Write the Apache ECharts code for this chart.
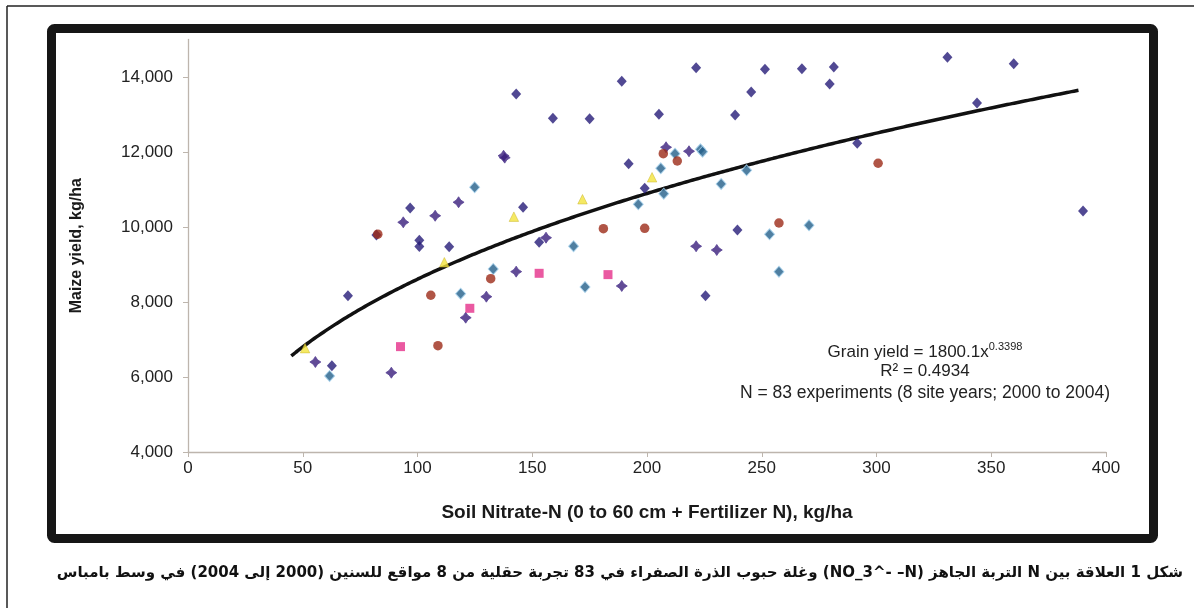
<!DOCTYPE html>
<html>
<head>
<meta charset="utf-8">
<script src="https://cdn.jsdelivr.net/npm/echarts@6/dist/echarts.min.js"></script>
<style>
html,body{margin:0;padding:0;background:#fff;}
#chart{width:1194px;height:608px;}
</style>
</head>
<body>
<div id="chart"></div>
<script>
// ---- Data ----
const xTicks = [0, 50, 100, 150, 200, 250, 300, 350, 400];
const yTicks = [4000, 6000, 8000, 10000, 12000, 14000];

const blueX = [62.7, 69.7, 82.1, 96.8, 100.8, 100.8, 113.8, 189, 143, 159, 175, 192, 146, 221.4, 251.4, 267.5, 281.4, 279.6, 245.4, 205.2, 238.4, 239.4, 225.5, 330.9, 359.8, 343.8, 291.6, 390, 199, 153];
const blueY = [6300, 8170, 9790, 10507, 9650, 9480, 9476, 13886, 13547, 12900, 12890, 11690, 10527, 14250, 14206, 14222, 14268, 13814, 13600, 13006, 12987, 9920, 8170, 14527, 14356, 13307, 12233, 10427, 11033, 9593];

const purpleX = [55.5, 88.6, 93.8, 107.7, 117.9, 137.5, 138, 121, 130, 143, 156, 189, 208.3, 218.3, 221.4, 230.4];
const purpleY = [6400, 6115, 10125, 10300, 10660, 11900, 11850, 7582, 8142, 8810, 9715, 8427, 12126, 12020, 9486, 9387];

const tealX = [61.7, 124.9, 133, 118.8, 168, 173, 206, 207.3, 196.2, 212.2, 223.3, 224.2, 243.4, 232.3, 257.5, 253.4, 270.6];
const tealY = [6027, 11060, 8880, 8222, 9487, 8400, 11566, 10889, 10606, 11955, 12073, 12008, 11513, 11148, 8808, 9806, 10046];

const redX = [82.7, 105.8, 108.9, 131.9, 181, 199, 207.1, 213.2, 257.5, 300.7];
const redY = [9810, 8180, 6835, 8622, 9955, 9966, 11955, 11760, 10107, 11700];

const pinkX = [92.6, 122.8, 153, 183];
const pinkY = [6810, 7832, 8765, 8730];

const yellowX = [51, 111.7, 142, 171.9, 202.2];
const yellowY = [6770, 9060, 10275, 10740, 11326];

// Fitted power curve printed on the chart: Grain yield = 1800.1 x^0.3398
const fitA = 1800.1;
const fitB = 0.3398;
const fitXStart = 45;
const fitXEnd = 388;

const eqLine1 = 'Grain yield = 1800.1x';
const eqExp = '0.3398';
const eqLine2 = 'R² = 0.4934';
const eqLine3 = 'N = 83 experiments (8 site years; 2000 to 2004)';
const xName = 'Soil Nitrate-N (0 to 60 cm + Fertilizer N), kg/ha';
const yName = 'Maize yield, kg/ha';
const caption = 'شكل 1 العلاقة بين N التربة الجاهز (NO_3^- –N) وغلة حبوب الذرة الصفراء في 83 تجربة حقلية من 8 مواقع للسنين (2000 إلى 2004) في وسط بامباس';

function pairs(xs, ys) { return xs.map((x, i) => [x, ys[i]]); }
const fitData = [];
for (let x = fitXStart; x <= fitXEnd; x += 1) fitData.push([x, fitA * Math.pow(x, fitB)]);

const starPath = 'path://M0,-10 L4,-4 L10,0 L4,4 L0,10 L-4,4 L-10,0 L-4,-4 Z';

const chart = echarts.init(document.getElementById('chart'));
const font = '"Liberation Sans", Arial, sans-serif';
const axisCol = '#bdb5ad';

chart.setOption({
  backgroundColor: '#ffffff',
  animation: false,
  grid: { left: 188, right: 88, top: 39.5, bottom: 156 },
  xAxis: {
    type: 'value', min: 0, max: 400, interval: 50,
    name: xName, nameLocation: 'middle', nameGap: 51,
    nameTextStyle: { fontFamily: font, fontWeight: 'bold', fontSize: 19, color: '#1a1a1a' },
    axisLine: { show: true, lineStyle: { color: axisCol, width: 1.3 } },
    axisTick: { show: true, length: 5, inside: false, lineStyle: { color: axisCol } },
    axisLabel: { fontFamily: font, fontSize: 17, color: '#222', margin: 8 },
    splitLine: { show: false }
  },
  yAxis: {
    type: 'value', min: 4000, max: 15000, interval: 2000,
    name: yName, nameLocation: 'middle', nameGap: 103, nameRotate: 90,
    nameTextStyle: { fontFamily: font, fontWeight: 'bold', fontSize: 16, color: '#1a1a1a' },
    axisLine: { show: true, lineStyle: { color: axisCol, width: 1.3 } },
    axisTick: { show: true, length: 5, lineStyle: { color: axisCol }, customValues: yTicks },
    axisLabel: {
      fontFamily: font, fontSize: 17, color: '#222', margin: 15, customValues: yTicks,
      formatter: v => v.toLocaleString('en-US')
    },
    splitLine: { show: false }
  },
  series: [
    { type: 'line', data: fitData, showSymbol: false, smooth: false, z: 1,
      lineStyle: { color: '#111', width: 3.5 } },
    { type: 'scatter', data: pairs(blueX, blueY), symbol: 'diamond', symbolSize: [10, 11], z: 3,
      itemStyle: { color: '#261c78' } },
    { type: 'scatter', data: pairs(purpleX, purpleY), symbol: starPath, symbolSize: 11, z: 3,
      itemStyle: { color: '#3a1e7c', borderColor: '#5a4596', borderWidth: 1 } },
    { type: 'scatter', data: pairs(tealX, tealY), symbol: 'diamond', symbolSize: [10, 11], z: 3,
      itemStyle: { color: '#235f8a', borderColor: '#a6d2ee', borderWidth: 1 } },
    { type: 'scatter', data: pairs(redX, redY), symbol: 'circle', symbolSize: 9.5, z: 4,
      itemStyle: { color: '#9c2a18' } },
    { type: 'scatter', data: pairs(pinkX, pinkY), symbol: 'rect', symbolSize: 9, z: 4,
      itemStyle: { color: '#e5308a' } },
    { type: 'scatter', data: pairs(yellowX, yellowY), symbol: 'triangle', symbolSize: 9.5, z: 4,
      itemStyle: { color: '#f3e43c', borderColor: '#c8b42a', borderWidth: 0.6 } }
  ],
  graphic: [
    { type: 'line', shape: { x1: 7, y1: 6, x2: 1194, y2: 6 }, style: { stroke: '#222', lineWidth: 1.5 } },
    { type: 'line', shape: { x1: 7, y1: 6, x2: 7, y2: 608 }, style: { stroke: '#222', lineWidth: 1.5 } },
    { type: 'rect', shape: { x: 51.5, y: 28.5, width: 1102, height: 510, r: 3 },
      style: { fill: 'none', stroke: '#161616', lineWidth: 9 } },
    { type: 'text', x: 925, y: 352,
      style: {
        text: '{a|' + eqLine1 + '}{s|' + eqExp + '}',
        align: 'center', verticalAlign: 'middle',
        rich: {
          a: { fontFamily: font, fontSize: 17, fill: '#222' },
          s: { fontFamily: font, fontSize: 11, fill: '#222', verticalAlign: 'top', padding: [0, 0, 10, 0] }
        }
      } },
    { type: 'text', x: 925, y: 371,
      style: { text: eqLine2, fontFamily: font, fontSize: 17, fill: '#222', align: 'center', verticalAlign: 'middle' } },
    { type: 'text', x: 925, y: 393,
      style: { text: eqLine3, fontFamily: font, fontSize: 17.5, fill: '#222', align: 'center', verticalAlign: 'middle' } },
    { type: 'text', x: 1183, y: 573,
      style: { text: '\u202B' + caption + '\u202C', fontFamily: '"DejaVu Sans", sans-serif', fontWeight: 'bold',
        fontSize: 15, fill: '#111', align: 'right', verticalAlign: 'middle' } }
  ]
});
</script>
</body>
</html>
